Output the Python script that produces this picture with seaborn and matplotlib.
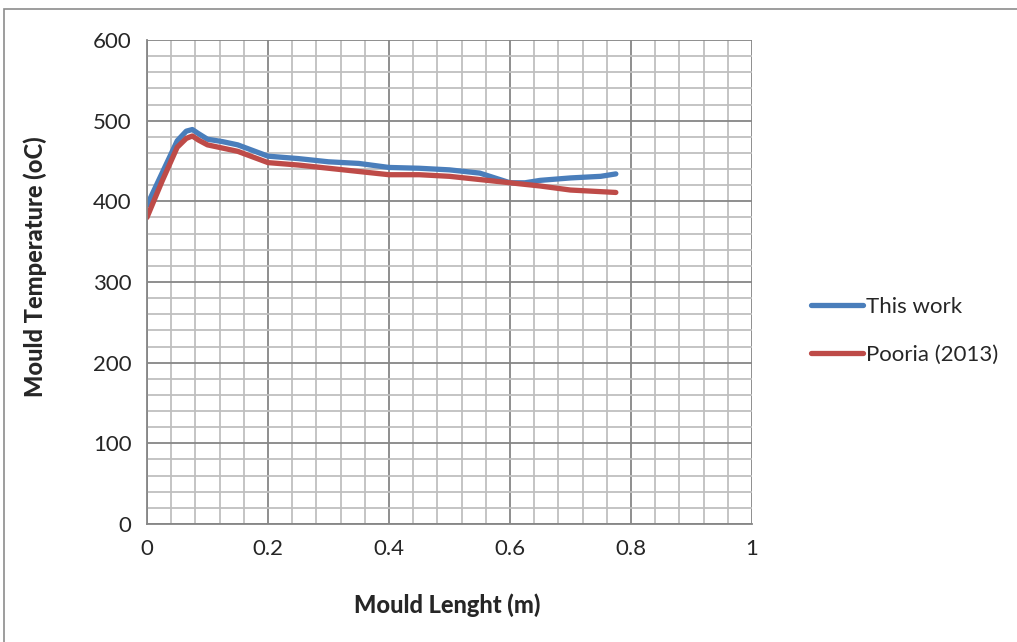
import pandas as pd
import numpy as np
import matplotlib.pyplot as plt
import matplotlib.patches as patches
from matplotlib.ticker import MultipleLocator
import seaborn as sns

# values
x_this = [0, 0.025, 0.05, 0.065, 0.075, 0.085, 0.1, 0.125, 0.15, 0.175, 0.2, 0.25,
          0.3, 0.35, 0.4, 0.45, 0.5, 0.55, 0.575, 0.6, 0.625, 0.65, 0.7, 0.75, 0.775]
y_this = [395, 435, 475, 487, 489, 484, 477, 474, 470, 463, 456, 453,
          449, 447, 442, 441, 439, 435, 429, 423, 423, 426, 429, 431, 434]

x_pooria = [0, 0.025, 0.05, 0.065, 0.075, 0.085, 0.1, 0.125, 0.15, 0.175, 0.2, 0.25,
            0.3, 0.35, 0.4, 0.45, 0.5, 0.55, 0.6, 0.65, 0.7, 0.75, 0.775]
y_pooria = [380, 425, 467, 478, 481, 476, 470, 466, 462, 455, 448, 445,
            441, 437, 433, 433, 431, 427, 423, 419, 414, 412, 411]

series = ['This work', 'Pooria (2013)']
colors = ['#4A7EBB', '#BE4B48']
xtick_labels = ['0', '0.2', '0.4', '0.6', '0.8', '1']

df = pd.concat([
    pd.DataFrame({'x': x_this, 'y': y_this, 'series': series[0]}),
    pd.DataFrame({'x': x_pooria, 'y': y_pooria, 'series': series[1]}),
])

sns.set_style("white")
plt.rcParams['font.family'] = ['Lato', 'DejaVu Sans']

fig = plt.figure(figsize=(10.17, 6.42), dpi=100)
ax = fig.add_axes([0.1445, 0.1838, 0.5949, 0.7539])

sns.lineplot(data=df, x='x', y='y', hue='series', palette=colors, ax=ax,
             linewidth=3.8, sort=False, estimator=None,
             solid_capstyle='round', solid_joinstyle='round')

ax.set_xlim(0, 1)
ax.set_ylim(0, 600)
ax.set_xticks([0, 0.2, 0.4, 0.6, 0.8, 1.0])
ax.set_xticklabels(xtick_labels)
ax.xaxis.set_minor_locator(MultipleLocator(0.04))
ax.yaxis.set_major_locator(MultipleLocator(100))
ax.yaxis.set_minor_locator(MultipleLocator(20))

ax.grid(which='minor', color='#BFBFBF', linewidth=1.3)
ax.grid(which='major', color='#868686', linewidth=1.3)
ax.set_axisbelow(True)

for s in ['top', 'right']:
    ax.spines[s].set_visible(False)
for s in ['left', 'bottom']:
    ax.spines[s].set_color('#868686')
    ax.spines[s].set_linewidth(1.3)

ax.tick_params(which='major', direction='out', length=5, width=1.3, color='#868686',
               labelsize=16, pad=6)
ax.tick_params(which='minor', length=0)

ax.set_xlabel('Mould Lenght (m)', fontsize=17, fontweight='black')
ax.set_ylabel('Mould Temperature (oC)', fontsize=17, fontweight='black')
ax.xaxis.set_label_coords(0.496, -0.1426)
ax.yaxis.set_label_coords(-0.166, 0.531)

handles, labels = ax.get_legend_handles_labels()
ax.get_legend().remove()
fig.legend(handles, labels, loc='center left', bbox_to_anchor=(0.7866, 0.4844),
           frameon=False, fontsize=16, handlelength=2.35, handletextpad=0.12,
           labelspacing=1.25, borderpad=0)

# outer chart border like the spreadsheet frame
fig.patches.append(patches.Rectangle((4 / 1017, -0.1), 1.2, 1.1 - 9 / 642,
                                     transform=fig.transFigure, fill=False,
                                     edgecolor='#8C8C8C', linewidth=1.2))

fig.savefig('out.png', dpi=100)
